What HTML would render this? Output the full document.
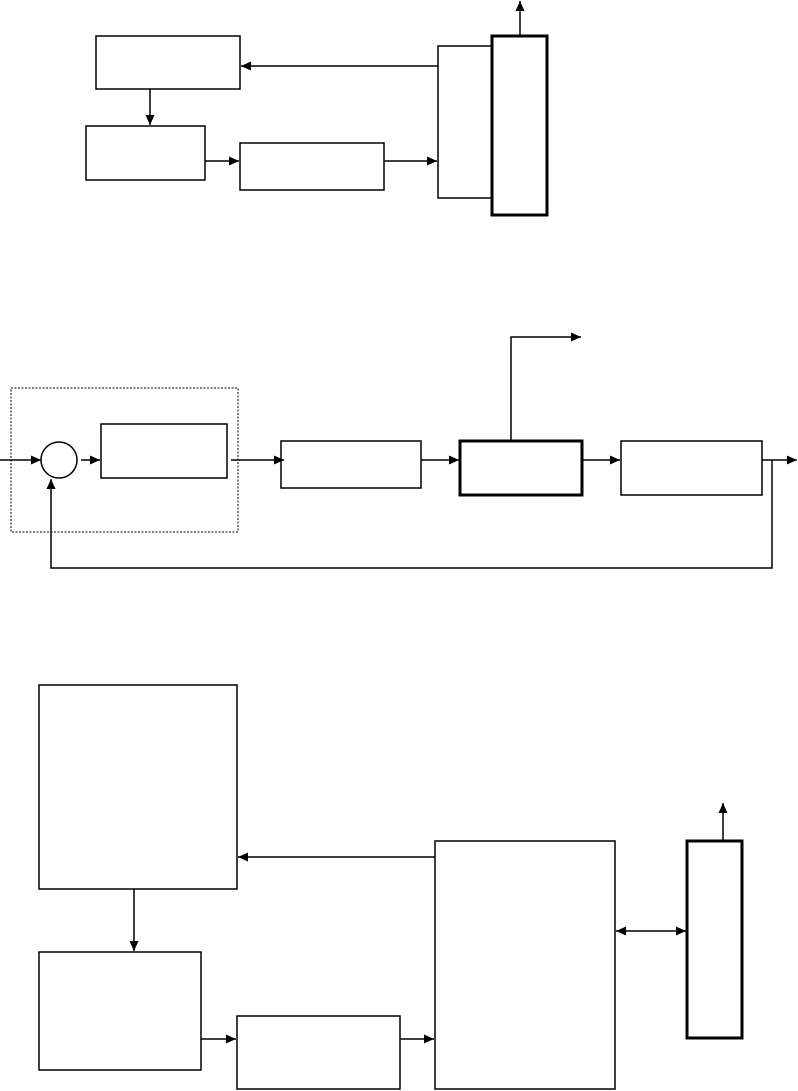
<!DOCTYPE html>
<html><head><meta charset="utf-8"><style>html,body{margin:0;padding:0;background:#fff;}svg{display:block}</style></head>
<body>
<svg width="798" height="1091" viewBox="0 0 798 1091" xmlns="http://www.w3.org/2000/svg">
<defs>
<marker id="a" markerWidth="10" markerHeight="9" refX="10" refY="4.5" orient="auto" markerUnits="userSpaceOnUse">
<path d="M0,0 L10,4.5 L0,9 z" fill="#000"/></marker>
<marker id="s" markerWidth="10" markerHeight="9" refX="0" refY="4.5" orient="auto" markerUnits="userSpaceOnUse">
<path d="M10,0 L0,4.5 L10,9 z" fill="#000"/></marker>
</defs>
<g fill="none" stroke="#000" stroke-width="1.5">
<!-- top -->
<rect x="96" y="36" width="144" height="53"/>
<rect x="86" y="126" width="119" height="54"/>
<rect x="240" y="143" width="144" height="47"/>
<rect x="438" y="46" width="54" height="152"/>
<rect x="492" y="36" width="55" height="179" stroke-width="3"/>
<line x1="520" y1="36" x2="520" y2="1" marker-end="url(#a)"/>
<line x1="438" y1="66" x2="241" y2="66" marker-end="url(#a)"/>
<line x1="150" y1="89" x2="150" y2="125" marker-end="url(#a)"/>
<line x1="205" y1="161" x2="239" y2="161" marker-end="url(#a)"/>
<line x1="384" y1="161" x2="437" y2="161" marker-end="url(#a)"/>
<!-- middle -->
<rect x="11" y="388" width="227" height="144" stroke-width="1" stroke-dasharray="2,1.5"/>
<circle cx="59" cy="460" r="18"/>
<rect x="101" y="424" width="126" height="54"/>
<rect x="281" y="441" width="140" height="47"/>
<rect x="460" y="441" width="122" height="54" stroke-width="3"/>
<rect x="621" y="441" width="141" height="54"/>
<line x1="0" y1="460" x2="41" y2="460" marker-end="url(#a)"/>
<line x1="81" y1="460" x2="100" y2="460" marker-end="url(#a)"/>
<line x1="231" y1="460" x2="284" y2="460" marker-end="url(#a)"/>
<line x1="421" y1="460" x2="459" y2="460" marker-end="url(#a)"/>
<line x1="582" y1="460" x2="620" y2="460" marker-end="url(#a)"/>
<line x1="762" y1="460" x2="797" y2="460" marker-end="url(#a)"/>
<polyline points="511,441 511,337 581,337" marker-end="url(#a)"/>
<polyline points="772,460 772,568 51,568 51,479" marker-end="url(#a)"/>
<!-- bottom -->
<rect x="39" y="685" width="198" height="204"/>
<rect x="39" y="952" width="162" height="118"/>
<rect x="237" y="1016" width="163" height="73"/>
<rect x="435" y="841" width="180" height="248"/>
<rect x="687" y="841" width="55" height="197" stroke-width="3"/>
<line x1="723" y1="841" x2="723" y2="803" marker-end="url(#a)"/>
<line x1="435" y1="857" x2="238" y2="857" marker-end="url(#a)"/>
<line x1="134" y1="889" x2="134" y2="951" marker-end="url(#a)"/>
<line x1="201" y1="1039" x2="236" y2="1039" marker-end="url(#a)"/>
<line x1="400" y1="1039" x2="434" y2="1039" marker-end="url(#a)"/>
<line x1="616" y1="931" x2="686" y2="931" marker-start="url(#s)" marker-end="url(#a)"/>
</g>
</svg>
</body></html>
